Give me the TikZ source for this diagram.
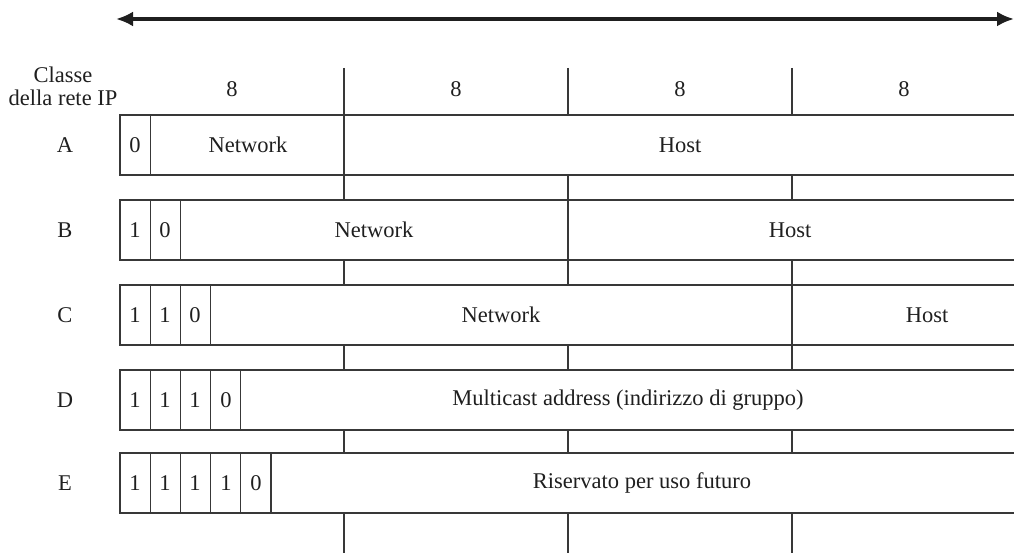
\documentclass[tikz,border=0pt]{standalone}
\usepackage{fontspec}
\setmainfont{Liberation Serif}
\usetikzlibrary{arrows.meta}
\begin{document}
\begin{tikzpicture}[x=1pt,y=-1pt,
  rule/.style={draw=black!78, line width=1.1pt},
  txt/.style={font=\fontsize{22.5}{24}\selectfont, text=black!88, inner sep=0pt, anchor=center},
  bigarrow/.style={draw=black!88, line width=3.3pt, {Latex[length=17pt,width=15pt]}-{Latex[length=17pt,width=15pt]}}]
\useasboundingbox (0,0) rectangle (1014,553);
% top arrow
\coordinate (al) at (116,19);
\coordinate (ar) at (1014,19);
\draw[bigarrow] (al) -- (ar);
% header
\node[txt] (cl1) at (63,75) {Classe};
\node[txt] (cl2) at (63,98) {della rete IP};
\foreach \x/\n in {232/1,456/2,680/3,904/4}
  \node[txt] (b\n) at (\x,89) {8};
\foreach \x in {344,568,792}
  \draw[rule] (\x,68) -- (\x,115);
% rows
\foreach \t/\nb/\nm in {115/1/A,200/2/B,285/3/C,370/4/D,453/5/E}{
  \pgfmathsetmacro{\b}{\t+60}
  \draw[rule] (1014,\t) -- (120,\t) -- (120,\b) -- (1014,\b);
  \foreach \i in {1,...,\nb}
    \draw[rule] ({120+30.2*\i},\t) -- ({120+30.2*\i},\b);
  \node[txt] (L\nm) at (65,\t+30) {\nm};
}
% digits
\node[txt] (a0) at (135,145) {0};
\node[txt] (b1) at (135,230) {1};
\node[txt] (b0) at (165,230) {0};
\node[txt] (c1) at (135,315) {1};
\node[txt] (c2) at (165,315) {1};
\node[txt] (c0) at (195,315) {0};
\node[txt] (d1) at (135,400) {1};
\node[txt] (d2) at (165,400) {1};
\node[txt] (d3) at (195,400) {1};
\node[txt] (d0) at (226,400) {0};
\node[txt] (e1) at (135,483) {1};
\node[txt] (e2) at (165,483) {1};
\node[txt] (e3) at (195,483) {1};
\node[txt] (e4) at (226,483) {1};
\node[txt] (e0) at (256,483) {0};
% inner byte dividers
\draw[rule] (344,115) -- (344,175);
\draw[rule] (568,200) -- (568,260);
\draw[rule] (792,285) -- (792,345);
% ticks between rows
\foreach \t/\b in {175/200,260/285,345/370,430/453,513/553}
  \foreach \x in {344,568,792}
    \draw[rule] (\x,\t) -- (\x,\b);
% field texts
\node[txt] (an) at (248,145) {Network};
\node[txt] (ah) at (680,145) {Host};
\node[txt] (bn) at (374,230) {Network};
\node[txt] (bh) at (790,230) {Host};
\node[txt] (cn) at (501,315) {Network};
\node[txt] (ch) at (927,315) {Host};
\node[txt] (dm) at (628,400) {Multicast address (indirizzo di gruppo)};
\node[txt] (er) at (642,483) {Riservato per uso futuro};
\end{tikzpicture}
\end{document}
